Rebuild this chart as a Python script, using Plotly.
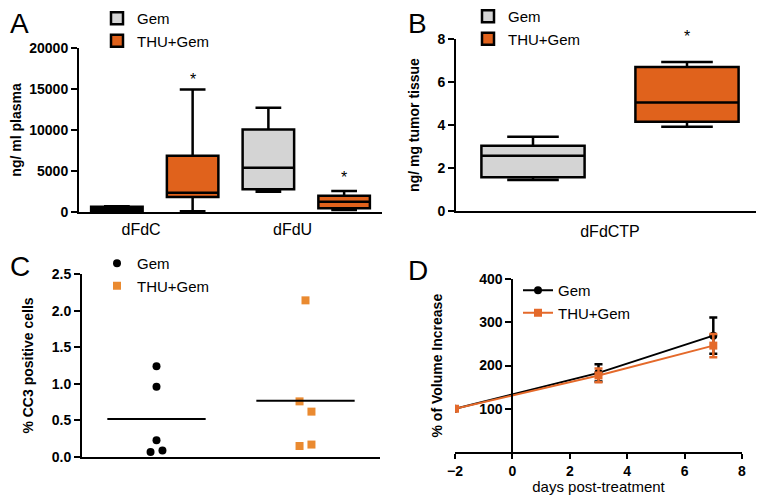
import numpy as np
import plotly.graph_objects as go

FONT = "Liberation Sans, Arial, Helvetica, sans-serif"
GRAY = "#d4d4d4"
ORANGE_BOX = "#e0621c"
ORANGE_PT = "#ea8a30"
ORANGE_LN = "#e4692a"

# ---------------- Panel A data (ng/ml plasma) ----------------
a_categories = ["dFdC", "dFdU"]
a_gem_lower = [40, 2480]
a_gem_q1 = [120, 2770]
a_gem_median = [420, 5400]
a_gem_q3 = [650, 10050]
a_gem_upper = [700, 12700]
a_thu_lower = [100, 240]
a_thu_q1 = [1830, 450]
a_thu_median = [2350, 1260]
a_thu_q3 = [6850, 1990]
a_thu_upper = [14950, 2560]
a_star_y = [16100, 4200]

# ---------------- Panel B data (ng/mg tumor tissue) ----------------
b_categories = ["dFdCTP"]
b_gem_lower = [1.44]
b_gem_q1 = [1.57]
b_gem_median = [2.57]
b_gem_q3 = [3.04]
b_gem_upper = [3.45]
b_thu_lower = [3.92]
b_thu_q1 = [4.15]
b_thu_median = [5.05]
b_thu_q3 = [6.70]
b_thu_upper = [6.93]

# ---------------- Panel C data (% CC3 positive cells) ----------------
c_gem = [1.24, 0.96, 0.23, 0.07, 0.09]
c_thu = [2.14, 0.76, 0.62, 0.15, 0.17]
c_jitter = [0.0, 0.0, 0.0, -0.04, 0.04]
c_jitter_thu = [0.0, -0.04, 0.04, -0.04, 0.04]

# ---------------- Panel D data (% of volume increase) ----------------
d_days = [-2, 3, 7]
d_gem_mean = [100, 183, 269]
d_gem_err = [0, 20, 42]
d_thu_mean = [100, 177, 246]
d_thu_err = [0, 16, 27]

fig = go.Figure()

# ---- Panel A boxes ----
a_gem_x = [2 * i + 0.5 for i in range(len(a_categories))]
a_thu_x = [2 * i + 1.5 for i in range(len(a_categories))]
fig.add_trace(go.Box(
    name="Gem", x=a_gem_x, q1=a_gem_q1, median=a_gem_median, q3=a_gem_q3,
    lowerfence=a_gem_lower, upperfence=a_gem_upper, width=0.68,
    fillcolor=GRAY, line=dict(color="black", width=2.5), whiskerwidth=0.5,
    xaxis="x", yaxis="y", legend="legend", hoverinfo="skip"))
fig.add_trace(go.Box(
    name="THU+Gem", x=a_thu_x, q1=a_thu_q1, median=a_thu_median, q3=a_thu_q3,
    lowerfence=a_thu_lower, upperfence=a_thu_upper, width=0.68,
    fillcolor=ORANGE_BOX, line=dict(color="black", width=2.5), whiskerwidth=0.5,
    xaxis="x", yaxis="y", legend="legend", hoverinfo="skip"))

# ---- Panel B boxes ----
b_gem_x = [2 * i + 0.5 for i in range(len(b_categories))]
b_thu_x = [2 * i + 1.5 for i in range(len(b_categories))]
fig.add_trace(go.Box(
    name="Gem", x=b_gem_x, q1=b_gem_q1, median=b_gem_median, q3=b_gem_q3,
    lowerfence=b_gem_lower, upperfence=b_gem_upper, width=0.67,
    fillcolor=GRAY, line=dict(color="black", width=2.5), whiskerwidth=0.5,
    xaxis="x2", yaxis="y2", legend="legend2", hoverinfo="skip"))
fig.add_trace(go.Box(
    name="THU+Gem", x=b_thu_x, q1=b_thu_q1, median=b_thu_median, q3=b_thu_q3,
    lowerfence=b_thu_lower, upperfence=b_thu_upper, width=0.67,
    fillcolor=ORANGE_BOX, line=dict(color="black", width=2.5), whiskerwidth=0.5,
    xaxis="x2", yaxis="y2", legend="legend2", hoverinfo="skip"))

# ---- Panel C scatter ----
fig.add_trace(go.Scatter(
    name="Gem", x=[0 + j for j in c_jitter], y=c_gem, mode="markers",
    marker=dict(symbol="circle", size=8, color="black"),
    xaxis="x3", yaxis="y3", legend="legend3"))
fig.add_trace(go.Scatter(
    name="THU+Gem", x=[1 + j for j in c_jitter_thu], y=c_thu, mode="markers",
    marker=dict(symbol="square", size=8, color=ORANGE_PT),
    xaxis="x3", yaxis="y3", legend="legend3"))
for i, vals in enumerate([c_gem, c_thu]):
    m = float(np.mean(vals))
    fig.add_trace(go.Scatter(
        x=[i - 0.33, i + 0.33], y=[m, m], mode="lines",
        line=dict(color="black", width=2), showlegend=False,
        xaxis="x3", yaxis="y3", hoverinfo="skip"))

# ---- Panel D lines ----
fig.add_trace(go.Scatter(
    name="Gem", x=d_days, y=d_gem_mean, mode="lines+markers",
    line=dict(color="black", width=2),
    marker=dict(symbol="circle", size=8, color="black"),
    error_y=dict(type="data", array=d_gem_err, color="black", thickness=2.5, width=4),
    xaxis="x4", yaxis="y4", legend="legend4"))
fig.add_trace(go.Scatter(
    name="THU+Gem", x=d_days, y=d_thu_mean, mode="lines+markers",
    line=dict(color=ORANGE_LN, width=2),
    marker=dict(symbol="square", size=8, color=ORANGE_LN),
    error_y=dict(type="data", array=d_thu_err, color=ORANGE_LN, thickness=2.5, width=4),
    xaxis="x4", yaxis="y4", legend="legend4"))

# The page body adds an 8px margin, so the figure is drawn 8px in from the
# window's corner; reference pixel positions are converted accordingly.
OFF = 8
W, H = 764 - OFF, 495 - OFF
def px(x):
    return (x - OFF) / W
def py(y):
    return 1 - (y - OFF) / H
def xd(a, b):
    return [px(a), px(b)]
def yd(top, bottom):
    return [py(bottom), py(top)]

tickfont = dict(family=FONT, size=14, color="black", weight="bold")
titlefont = dict(family=FONT, size=14, color="black", weight="bold")
axline = dict(showline=True, linecolor="black", linewidth=2, showgrid=False,
              zeroline=False, automargin=False)
legfont = dict(family=FONT, size=15, color="black")

fig.update_layout(
    width=W, height=H, margin=dict(l=0, r=0, t=0, b=0, autoexpand=False),
    paper_bgcolor="white", plot_bgcolor="white",
    font=dict(family=FONT, color="black"),
    boxmode="overlay",
    # Panel A
    xaxis=dict(domain=xd(79, 382), range=[0, 4], anchor="y",
               tickvals=[2 * i + 0.82 for i in range(len(a_categories))],
               ticktext=a_categories, ticks="outside", ticklen=2,
               tickcolor="rgba(0,0,0,0)",
               tickfont=dict(family=FONT, size=16, color="black"), **axline),
    yaxis=dict(domain=yd(48, 212), range=[0, 20000], anchor="x", dtick=5000,
               tickformat="d",
               ticks="outside", ticklen=6, tickwidth=2, tickcolor="black",
               tickfont=tickfont, title=dict(text="ng/ ml plasma", font=titlefont),
               **axline),
    # Panel B
    xaxis2=dict(domain=xd(456, 764), range=[0, 2], anchor="y2",
                tickvals=[2 * i + 1.0 for i in range(len(b_categories))],
                ticktext=b_categories, ticks="outside", ticklen=5,
                tickcolor="rgba(0,0,0,0)",
                tickfont=dict(family=FONT, size=16, color="black"), **axline),
    yaxis2=dict(domain=yd(39, 211), range=[0, 8], anchor="x2", dtick=2,
                ticks="outside", ticklen=6, tickwidth=2, tickcolor="black",
                tickfont=tickfont, title=dict(text="ng/ mg tumor tissue", font=titlefont),
                **axline),
    # Panel C
    xaxis3=dict(domain=xd(82, 380), range=[-0.5, 1.5], anchor="y3",
                showticklabels=False, ticks="", **axline),
    yaxis3=dict(domain=yd(274, 457), range=[0, 2.5], anchor="x3", dtick=0.5,
                tickformat=".1f", ticks="outside", ticklen=6, tickwidth=2,
                tickcolor="black", tickfont=tickfont,
                title=dict(text="% CC3 positive cells", font=titlefont), **axline),
    # Panel D
    xaxis4=dict(domain=xd(455, 742), range=[-2, 8], anchor="y4", dtick=2,
                ticks="outside", ticklen=5, tickwidth=2, tickcolor="black",
                tickfont=tickfont,
                title=dict(text="days post-treatment", standoff=4,
                           font=dict(family=FONT, size=15, color="black")),
                **axline),
    yaxis4=dict(domain=yd(279, 452), range=[0, 400], anchor="free",
                position=px(455 + 2 * 287 / 10),
                tickvals=[100, 200, 300, 400],
                ticks="outside", ticklen=6, tickwidth=2, tickcolor="black",
                tickfont=tickfont, **axline),
    legend=dict(x=px(97), y=py(2), xanchor="left", yanchor="top",
                bgcolor="rgba(0,0,0,0)", font=legfont),
    legend2=dict(x=px(468), y=py(0), xanchor="left", yanchor="top",
                 bgcolor="rgba(0,0,0,0)", font=legfont),
    legend3=dict(x=px(97), y=py(247), xanchor="left", yanchor="top",
                 bgcolor="rgba(0,0,0,0)", font=legfont),
    legend4=dict(x=px(518), y=py(274), xanchor="left", yanchor="top",
                 bgcolor="rgba(0,0,0,0)", font=legfont),
)

# y-axis title of panel D (its axis sits at x = 0, inside the plot area)
fig.add_annotation(x=px(436), y=py(365.5), xref="paper", yref="paper",
                   text="% of Volume Increase", textangle=-90, showarrow=False,
                   xanchor="center", yanchor="middle", font=titlefont)

# significance stars
a_star_x = [2 * i + 1.5 for i in range(len(a_categories))]
for xs, ys in zip(a_star_x, a_star_y):
    fig.add_annotation(x=xs, y=ys, xref="x", yref="y", text="*", showarrow=False,
                       font=dict(family=FONT, size=16, color="black"))
fig.add_annotation(x=b_thu_x[0], y=8, xref="x2", yref="y2", text="*", showarrow=False,
                   yanchor="bottom", yshift=-8,
                   font=dict(family=FONT, size=16, color="black"))

# panel letters
for letter, lx, ly in [("A", 8, 6), ("B", 406, 6), ("C", 8, 249), ("D", 406, 253)]:
    fig.add_annotation(x=px(lx), y=py(ly), xref="paper", yref="paper",
                       xanchor="left", yanchor="top", text=letter, showarrow=False,
                       font=dict(family=FONT, size=28, color="black"))

fig.write_html("out.html")
